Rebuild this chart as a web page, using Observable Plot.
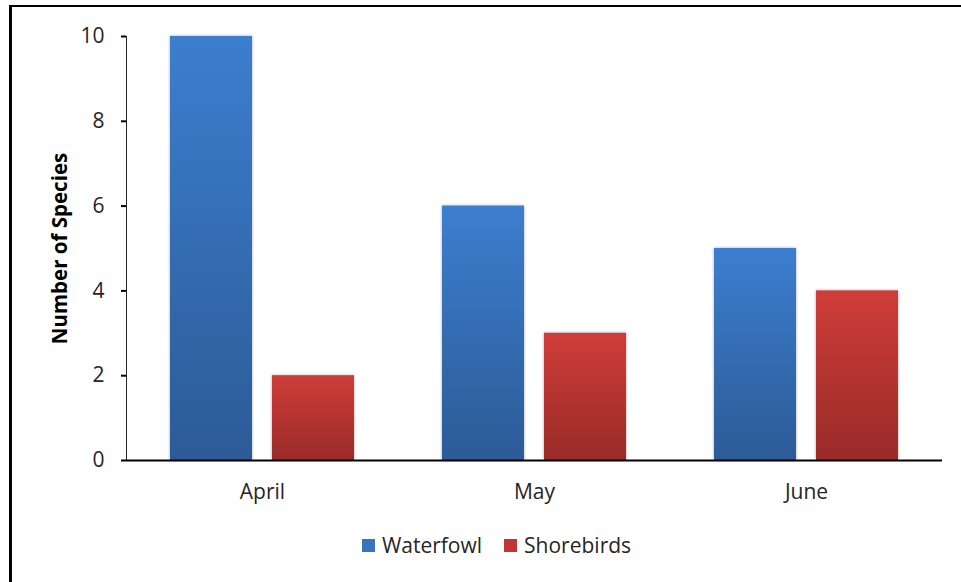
<!DOCTYPE html>
<html>
<head>
<meta charset="utf-8">
<script src="https://cdn.jsdelivr.net/npm/d3@7"></script>
<script src="https://cdn.jsdelivr.net/npm/@observablehq/plot@0.6"></script>
<style>
  html, body { margin: 0; padding: 0; background: #fff; }
  #page { position: relative; width: 961px; height: 582px; overflow: hidden; font-family: "Open Sans", sans-serif; }
  #frame { position: absolute; left: 9px; top: 5px; width: 1000px; height: 1000px;
           border-left: 3px solid #000; border-top: 2.5px solid #000; pointer-events: none; }
  #chart { position: absolute; left: 0; top: 0; }
  #legend { position: absolute; left: 0; top: 528px; width: 961px; height: 34px;
            display: flex; justify-content: center; align-items: center; gap: 0;
            font-size: 21px; color: #262626; padding-left: 32px; box-sizing: border-box; }
  .item { display: flex; align-items: center; margin: 0 11px; }
  .swatch { width: 13px; height: 13px; margin-right: 7px; }
</style>
</head>
<body>
<div id="page">
  <div id="chart"></div>
  <div id="legend"></div>
  <div id="frame"></div>
</div>
<script>
// Bird survey: species counted per month
const months = ["April", "May", "June"];
const series = ["Waterfowl", "Shorebirds"];
const waterfowl = [10, 6, 5];
const shorebirds = [2, 3, 4];
const yTicks = [0, 2, 4, 6, 8, 10];
const yTitle = "Number of Species";

const gradients = {
  Waterfowl: { id: "grad-waterfowl", top: "#3c7ecf", bottom: "#2c5b96", swatch: "#3a73bd" },
  Shorebirds: { id: "grad-shorebirds", top: "#cf3d39", bottom: "#992b29", swatch: "#c33634" }
};

const rows = months.flatMap((m, i) => [
  { month: m, group: "Waterfowl", value: waterfowl[i] },
  { month: m, group: "Shorebirds", value: shorebirds[i] }
]);

const chart = Plot.plot({
  width: 961,
  height: 520,
  marginLeft: 126,
  marginRight: 19,
  marginTop: 36,
  marginBottom: 60,
  style: { fontFamily: "Open Sans, sans-serif", fontSize: "21px", color: "#262626", background: "transparent" },
  fx: { domain: months, padding: 0, label: null, tickSize: 0, tickPadding: 24 },
  x: { domain: series, axis: null, paddingInner: 0.1923, paddingOuter: 0.42 },
  y: { domain: [0, 10], ticks: yTicks, tickSize: 5, tickPadding: 17, line: true,
       label: yTitle, labelAnchor: "center", labelOffset: 74 },
  color: { domain: series, range: series.map(s => `url(#${gradients[s].id})`) },
  marks: [
    Plot.barY(rows, { fx: "month", x: "group", y: "value", fill: "group" }),
    Plot.ruleY([0], { stroke: "#000", strokeWidth: 2 })
  ]
});

// Vertical gradients, one per bar (objectBoundingBox)
const svg = d3.select(chart.tagName.toLowerCase() === "svg" ? chart : chart.querySelector("svg"));
const defs = svg.insert("defs", ":first-child");
for (const s of series) {
  const g = gradients[s];
  const lg = defs.append("linearGradient").attr("id", g.id)
    .attr("x1", 0).attr("y1", 0).attr("x2", 0).attr("y2", 1);
  lg.append("stop").attr("offset", "0%").attr("stop-color", g.top);
  lg.append("stop").attr("offset", "100%").attr("stop-color", g.bottom);
}
svg.selectAll("rect").filter(function () {
  const f = this.getAttribute("fill");
  return f && f.startsWith("url(");
}).style("filter", "drop-shadow(0px 0px 1.5px rgba(0,0,0,0.35))");

// Axis title: bold, without the direction arrow
svg.selectAll("text").each(function () {
  if (this.textContent.includes(yTitle)) {
    d3.select(this).text(yTitle).style("font-weight", "bold").style("font-size", "20.5px").attr("fill", "#000");
  }
});
svg.selectAll("[aria-label^='y-axis'] path, [aria-label^='y-axis'] line")
  .attr("stroke", "#000").attr("stroke-width", 2).attr("stroke-opacity", 1);

document.getElementById("chart").appendChild(chart);

// Legend below the plot
const legend = d3.select("#legend");
for (const s of series) {
  const item = legend.append("div").attr("class", "item");
  item.append("div").attr("class", "swatch").style("background", gradients[s].swatch);
  item.append("span").text(s);
}
</script>
</body>
</html>
